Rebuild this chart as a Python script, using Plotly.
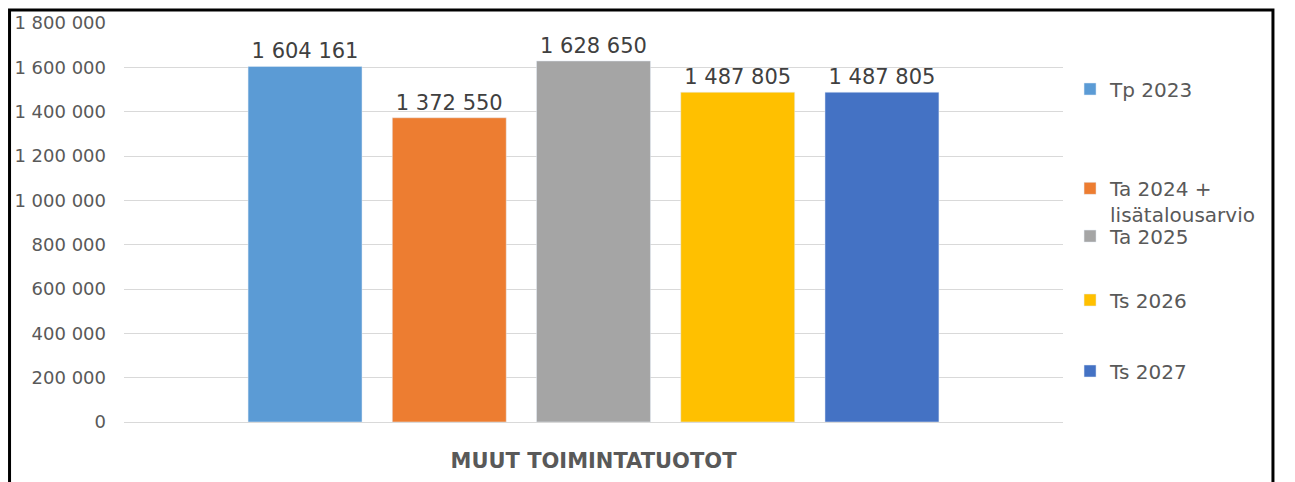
import plotly.graph_objects as go

category = ["MUUT TOIMINTATUOTOT"]
series_names = ["Tp 2023", "Ta 2024 +<br>lisätalousarvio", "Ta 2025", "Ts 2026", "Ts 2027"]
series_values = [1604161, 1372550, 1628650, 1487805, 1487805]
colors = ["#5B9BD5", "#ED7D31", "#A5A5A5", "#FFC000", "#4472C4"]
tick_vals = [0, 200000, 400000, 600000, 800000, 1000000, 1200000, 1400000, 1600000, 1800000]

FONT = "DejaVu Sans"
legend_ys = [0.8346, 0.553, 0.466, 0.3058, 0.1278]

fig = go.Figure()
for i, (name, val, col) in enumerate(zip(series_names, series_values, colors)):
    lg = "legend" if i == 0 else f"legend{i+1}"
    fig.add_trace(go.Bar(
        x=category, y=[val], name=name, marker_color=col,
        text=[val], texttemplate="%{y:,d}", textposition="outside",
        textfont=dict(family=FONT, size=21, color="#404040"),
        cliponaxis=False, legend=lg,
    ))

layout_legends = {}
for i, yv in enumerate(legend_ys):
    key = "legend" if i == 0 else f"legend{i+1}"
    layout_legends[key] = dict(
        x=1.0075, xanchor="left", y=yv, yanchor="middle",
        font=dict(family=FONT, size=20, color="#595959"),
        bgcolor="rgba(0,0,0,0)", itemwidth=30, valign="top",
        itemclick=False, itemdoubleclick=False,
    )

fig.update_layout(
    width=1295, height=482,
    margin=dict(l=116, r=240, t=15, b=68, autoexpand=False),
    paper_bgcolor="white", plot_bgcolor="white",
    separators=", ",
    barmode="group", bargap=0.232, bargroupgap=0.21,
    showlegend=True,
    shapes=[dict(type="rect", xref="paper", yref="paper",
                 x0=-0.1219, x1=1.2236, y0=-0.2, y1=1.0326,
                 line=dict(color="black", width=3), layer="above")],
    **layout_legends,
)
fig.update_yaxes(
    range=[0, 1800000], tickvals=tick_vals, tickformat=",d",
    showgrid=True, gridcolor="#D9D9D9", gridwidth=1,
    zeroline=False, showline=False, ticks="", automargin=False,
    tickfont=dict(family=FONT, size=18, color="#595959"),
    ticklabelstandoff=17,
)
fig.update_xaxes(
    showline=True, linecolor="#D9D9D9", linewidth=1, ticks="", automargin=False,
    tickfont=dict(family=FONT, size=21, color="#595959", weight="bold"),
    ticklabelstandoff=20,
)
fig.write_html("out.html")
